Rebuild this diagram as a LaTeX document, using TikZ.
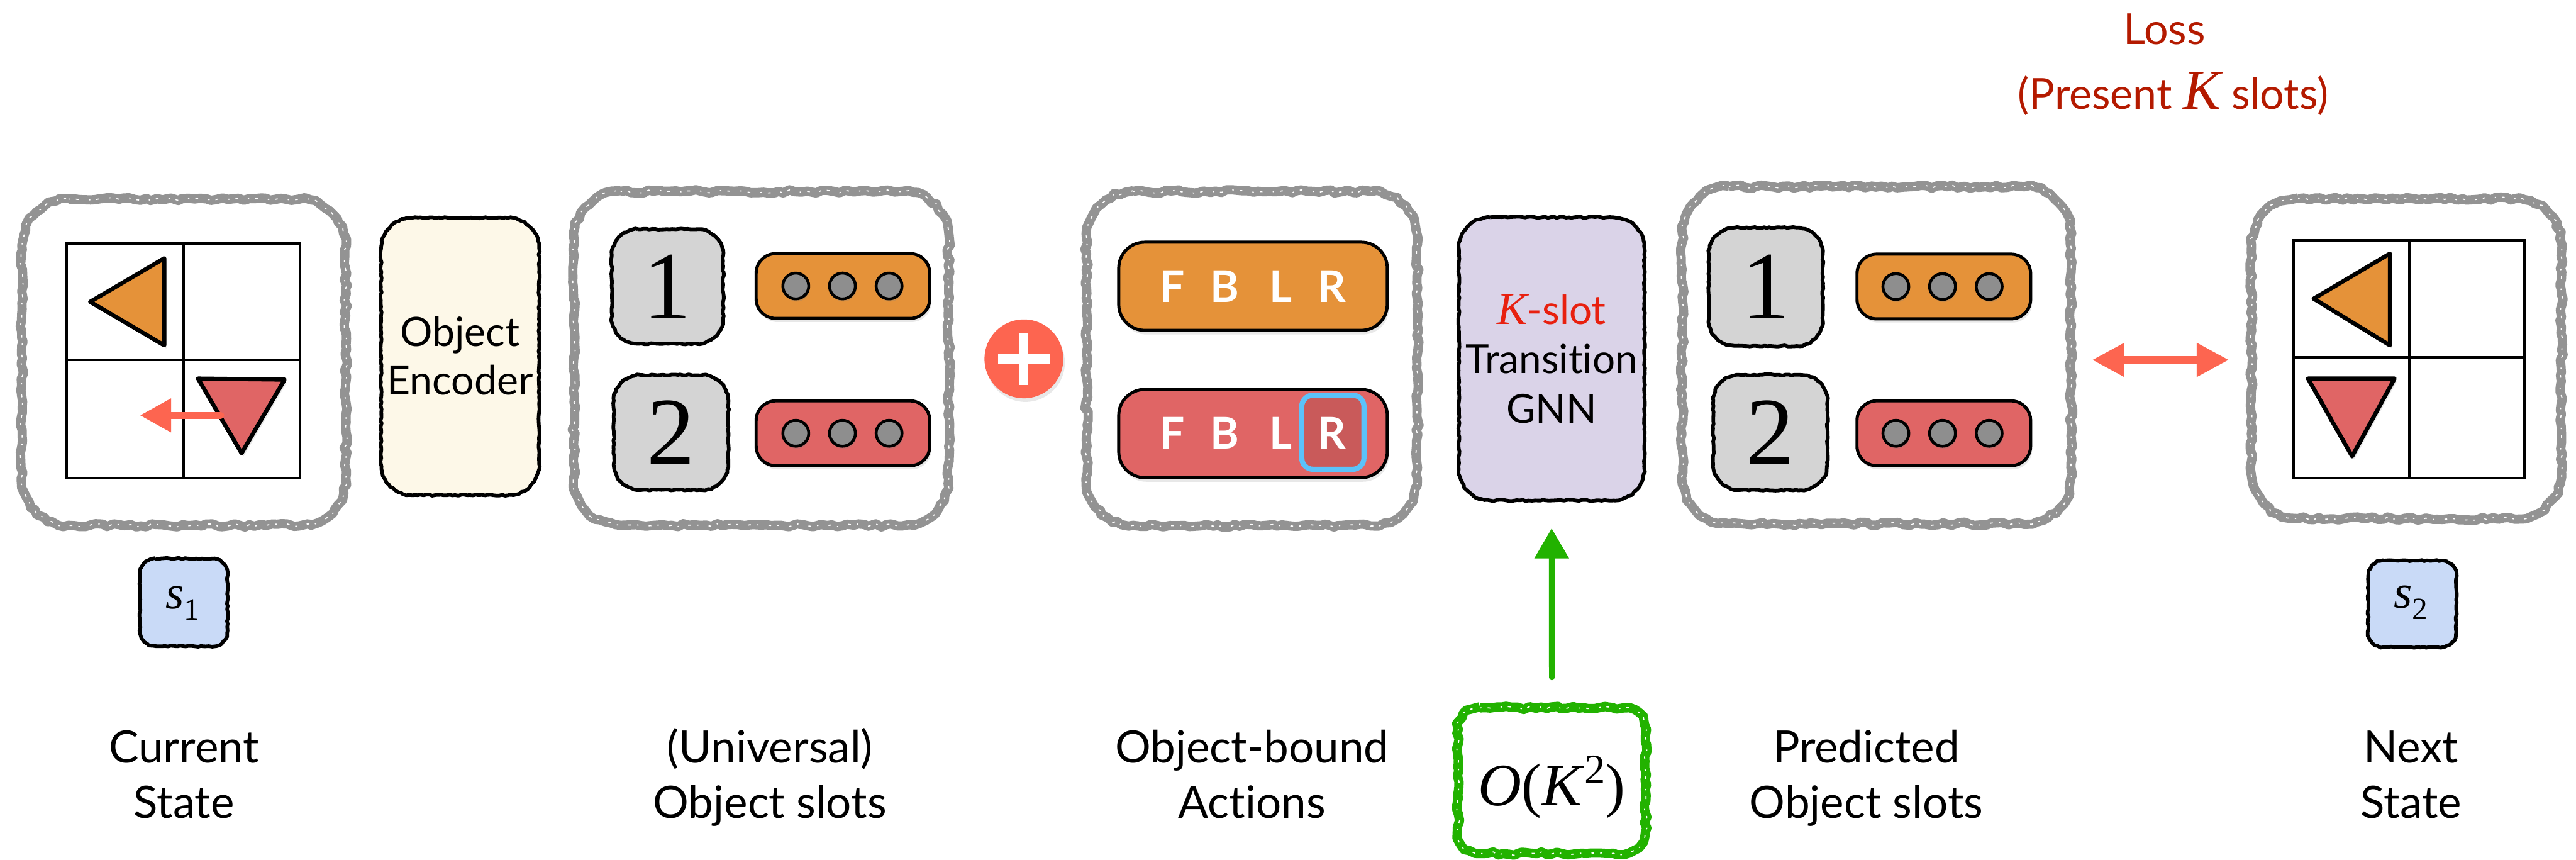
\documentclass[tikz,border=0pt]{standalone}
\usepackage{fontspec}
\setmainfont{Lato}[Ligatures=NoCommon]
\newfontfamily\tms{Liberation Serif}
\usetikzlibrary{arrows.meta,decorations.pathmorphing,shadows}

\definecolor{chalkgray}{HTML}{939393}
\definecolor{orangeA}{HTML}{E59239}
\definecolor{redA}{HTML}{E06565}
\definecolor{redDark}{HTML}{C95A5A}
\definecolor{dotgray}{HTML}{8E8E8E}
\definecolor{numgray}{HTML}{D4D4D4}
\definecolor{encfill}{HTML}{FDF8E8}
\definecolor{gnnfill}{HTML}{DAD3E8}
\definecolor{sfill}{HTML}{C9DAF7}
\definecolor{tomatoA}{HTML}{FD6550}
\definecolor{lossred}{HTML}{B41A00}
\definecolor{kred}{HTML}{E8200F}
\definecolor{greenA}{HTML}{22B200}
\definecolor{hlblue}{HTML}{5BC2FA}

% closed rounded-rectangle path from (x1,y1) to (x2,y2) with corner radius r
\newcommand\roundedpath[5]{({#1+#5},#2) -- ({#3-#5},#2)
  .. controls ({#3-0.4477*#5},#2) and (#3,{#2+0.4477*#5}) .. (#3,{#2+#5})
  -- (#3,{#4-#5})
  .. controls (#3,{#4-0.4477*#5}) and ({#3-0.4477*#5},#4) .. ({#3-#5},#4)
  -- ({#1+#5},#4)
  .. controls ({#1+0.4477*#5},#4) and (#1,{#4-0.4477*#5}) .. (#1,{#4-#5})
  -- (#1,{#2+#5})
  .. controls (#1,{#2+0.4477*#5}) and ({#1+0.4477*#5},#2) .. ({#1+#5},#2) -- cycle}

\begin{document}
\pgfmathsetseed{11}
\begin{tikzpicture}[x=1cm, y=-1cm,
  chalkline/.style={draw=#1, line width=0.18cm, line join=round,
    decorate, decoration={random steps, segment length=3pt, amplitude=0.9pt},
    postaction={draw=white, line width=0.6pt,
      dash pattern=on 0.8pt off 3.3pt on 1.5pt off 5.6pt}},
  chalkline/.default=chalkgray,
  inkline/.style={draw=black, line width=2pt, line join=round,
    decorate, decoration={random steps, segment length=1.6pt, amplitude=0.35pt}},
  slotpill/.style={draw=black, line width=0.06cm, rounded corners=0.38cm,
    minimum width=3.35cm, minimum height=1.25cm, inner sep=0,
    drop shadow={opacity=0.18, shadow xshift=0.03cm, shadow yshift=-0.07cm}},
  fbar/.style={draw=black, line width=0.06cm, rounded corners=0.5cm,
    minimum width=5.18cm, minimum height=1.70cm, inner sep=0,
    drop shadow={opacity=0.18, shadow xshift=0.03cm, shadow yshift=-0.08cm}},
  slotdot/.style={circle, draw=black, line width=0.055cm, fill=dotgray,
    minimum size=0.5cm, inner sep=0,
    drop shadow={opacity=0.25, shadow xshift=0.02cm, shadow yshift=-0.05cm}},
  tripiece/.style={draw=black, line width=0.08cm, line join=round,
    drop shadow={opacity=0.18, shadow xshift=0.04cm, shadow yshift=-0.06cm}},
  gridline/.style={draw=black, line width=0.05cm},
  bottomlbl/.style={anchor=base, inner sep=0, font=\fontsize{24.5}{30.4}\selectfont},
  boxtext/.style={align=center, inner sep=0, font=\fontsize{22}{27}\selectfont},
  digit/.style={inner sep=0, font=\tms\fontsize{53}{53}\selectfont},
  fblr/.style={anchor=base, inner sep=0, text=white, font=\fontsize{24}{24}\selectfont\bfseries},
  losstext/.style={anchor=base, inner sep=0, text=lossred, font=\fontsize{23.5}{28}\selectfont},
  stext/.style={anchor=base, inner sep=0, font=\tms\fontsize{26}{26}\selectfont},
  moveArrow/.style={draw=tomatoA, line width=0.13cm, line cap=round,
    -{Triangle[length=0.6cm, width=0.62cm]}},
  lossarrow/.style={draw=tomatoA, line width=0.14cm,
    {Triangle[length=0.62cm, width=0.62cm]}-{Triangle[length=0.62cm, width=0.62cm]}},
  greenarrow/.style={draw=greenA, line width=0.11cm, line cap=round,
    -{Triangle[length=0.58cm, width=0.64cm]}}
]
\useasboundingbox (0,0) rectangle (49.69,16.58);
\fill[white] (0,0) rectangle (49.69,16.58);

% ---- chalk frames ----
\draw[chalkline] \roundedpath{0.42}{3.84}{6.67}{10.13}{0.9};
\draw[chalkline] \roundedpath{11.07}{3.69}{18.30}{10.13}{0.9};
\draw[chalkline] \roundedpath{20.96}{3.69}{27.34}{10.13}{0.9};
\draw[chalkline] \roundedpath{32.45}{3.60}{39.95}{10.10}{0.9};
\draw[chalkline] \roundedpath{43.43}{3.83}{49.41}{10.00}{0.9};
\node[minimum width=7.5cm, minimum height=6.5cm, inner sep=0] (box4) at (36.20,6.94) {};
\node[minimum width=5.98cm, minimum height=6.2cm, inner sep=0] (box5) at (46.42,6.94) {};

% ---- current state grid ----
\draw[gridline] (1.29,4.70) rectangle (5.79,9.22);
\draw[gridline] (3.54,4.70) -- (3.54,9.22);
\draw[gridline] (1.29,6.94) -- (5.79,6.94);
\filldraw[tripiece, fill=orangeA] (1.74,5.82) -- (3.17,4.98) -- (3.17,6.66) -- cycle;
\filldraw[tripiece, fill=redA] (3.82,7.30) -- (5.49,7.32) -- (4.66,8.74) -- cycle;
\coordinate (mvstart) at (4.26,8.01);
\coordinate (mvend) at (2.70,8.01);
\draw[moveArrow] (mvstart) -- (mvend);

% ---- object encoder ----
\filldraw[inkline, fill=encfill] \roundedpath{7.35}{4.20}{10.40}{9.55}{0.6};
\node[boxtext, font=\fontsize{22.2}{26.7}\selectfont] (enc) at (8.875,6.86) {Object\\Encoder};

% ---- universal object slots ----
\filldraw[inkline, fill=numgray] \roundedpath{11.80}{4.42}{13.95}{6.63}{0.5};
\node[digit] (u1) at (12.875,5.525) {1};
\filldraw[inkline, fill=numgray] \roundedpath{11.84}{7.23}{14.05}{9.45}{0.5};
\node[digit] (u2) at (12.945,8.34) {2};
\node[slotpill, fill=orangeA] (us1) at (16.26,5.515) {};
\node[slotpill, fill=redA] (us2) at (16.26,8.355) {};
\foreach \dx [count=\i] in {-0.91,-0.01,0.89} {
  \node[slotdot] (us1d\i) at ([xshift=\dx cm]us1.center) {};
  \node[slotdot] (us2d\i) at ([xshift=\dx cm]us2.center) {};
}

% ---- plus ----
\node[circle, fill=tomatoA, minimum size=1.52cm, inner sep=0,
  drop shadow={opacity=0.18, shadow xshift=0.03cm, shadow yshift=-0.07cm}] (plus) at (19.75,6.92) {};
\draw[white, line width=0.18cm] ([xshift=-0.5cm]plus.center) -- ([xshift=0.5cm]plus.center);
\draw[white, line width=0.18cm] ([yshift=-0.5cm]plus.center) -- ([yshift=0.5cm]plus.center);

% ---- object-bound actions ----
\node[fbar, fill=orangeA] (actA) at (24.17,5.52) {};
\node[fbar, fill=redA] (actB) at (24.17,8.36) {};
\fill[redDark] \roundedpath{25.11}{7.62}{26.31}{9.05}{0.22};
\foreach \lx/\lt [count=\i] in {22.61/F,23.63/B,24.71/L,25.69/R} {
  \node[fblr] (fa\i) at (\lx,5.83) {\lt};
  \node[fblr] (fb\i) at (\lx,8.65) {\lt};
}
\draw[hlblue, line width=0.1cm] \roundedpath{25.11}{7.62}{26.31}{9.05}{0.22};

% ---- transition GNN ----
\filldraw[inkline, fill=gnnfill] \roundedpath{28.14}{4.19}{31.72}{9.65}{0.6};
\node[boxtext, minimum width=3.58cm, minimum height=5.46cm] (gnn) at (29.93,6.92)
  {{\color{kred}{\tms\itshape\fontsize{25}{25}\selectfont K}-slot}\\Transition\\GNN};

% ---- predicted object slots ----
\filldraw[inkline, fill=numgray] \roundedpath{32.96}{4.39}{35.16}{6.67}{0.5};
\node[digit] (p1) at (34.06,5.53) {1};
\filldraw[inkline, fill=numgray] \roundedpath{33.05}{7.23}{35.25}{9.45}{0.5};
\node[digit] (p2) at (34.15,8.34) {2};
\node[slotpill, fill=orangeA] (ps1) at (37.495,5.525) {};
\node[slotpill, fill=redA] (ps2) at (37.495,8.355) {};
\foreach \dx [count=\i] in {-0.925,-0.025,0.875} {
  \node[slotdot] (ps1d\i) at ([xshift=\dx cm]ps1.center) {};
  \node[slotdot] (ps2d\i) at ([xshift=\dx cm]ps2.center) {};
}

% ---- next state grid ----
\draw[gridline] (44.24,4.64) rectangle (48.70,9.22);
\draw[gridline] (46.47,4.64) -- (46.47,9.22);
\draw[gridline] (44.24,6.89) -- (48.70,6.89);
\filldraw[tripiece, fill=orangeA] (44.63,5.76) -- (46.10,4.89) -- (46.10,6.66) -- cycle;
\filldraw[tripiece, fill=redA] (44.52,7.30) -- (46.19,7.30) -- (45.37,8.80) -- cycle;

% ---- loss ----
\draw[lossarrow, shorten <=0.40cm, shorten >=0.43cm] (box4.east) -- (box5.west);
\node[losstext] (loss1) at (41.75,0.86) {Loss};
\node[losstext] (loss2) at (41.92,2.11) {(Present {\tms\itshape\fontsize{31}{31}\selectfont K} slots)};

% ---- state symbols ----
\filldraw[inkline, fill=sfill] \roundedpath{2.70}{10.77}{4.39}{12.46}{0.3};
\node[stext] (s1) at (3.52,11.74) {\textit{s}\raisebox{-6pt}{\fontsize{17}{17}\selectfont 1}};
\filldraw[inkline, fill=sfill] \roundedpath{45.68}{10.81}{47.38}{12.48}{0.3};
\node[stext] (s2) at (46.50,11.73) {\textit{s}\raisebox{-6pt}{\fontsize{17}{17}\selectfont 2}};

% ---- complexity ----
\draw[chalkline=greenA] \roundedpath{28.13}{13.65}{31.74}{16.46}{0.42};
\node[minimum width=3.61cm, minimum height=2.81cm, inner sep=0] (cmplx) at (29.935,15.055) {};
\node[anchor=base, inner sep=0, font=\tms\fontsize{33}{33}\selectfont] (cmplxtxt) at (29.93,15.53)
  {\textit{O}(\textit{K}\raisebox{12pt}{\fontsize{23}{23}\selectfont 2})};
\draw[greenarrow, shorten <=0.58cm, shorten >=0.53cm] (cmplx.north) -- (gnn.south);

% ---- captions ----
\node[bottomlbl] (capA) at (3.55,14.71) {\begin{tabular}[t]{@{}c@{}}Current\\State\end{tabular}};
\node[bottomlbl] (capB) at (14.85,14.71) {\begin{tabular}[t]{@{}c@{}}(Universal)\\Object slots\end{tabular}};
\node[bottomlbl] (capC) at (24.15,14.71) {\begin{tabular}[t]{@{}c@{}}Object-bound\\Actions\end{tabular}};
\node[bottomlbl] (capD) at (36.00,14.71) {\begin{tabular}[t]{@{}c@{}}Predicted\\Object slots\end{tabular}};
\node[bottomlbl] (capE) at (46.51,14.71) {\begin{tabular}[t]{@{}c@{}}Next\\State\end{tabular}};
\end{tikzpicture}
\end{document}
